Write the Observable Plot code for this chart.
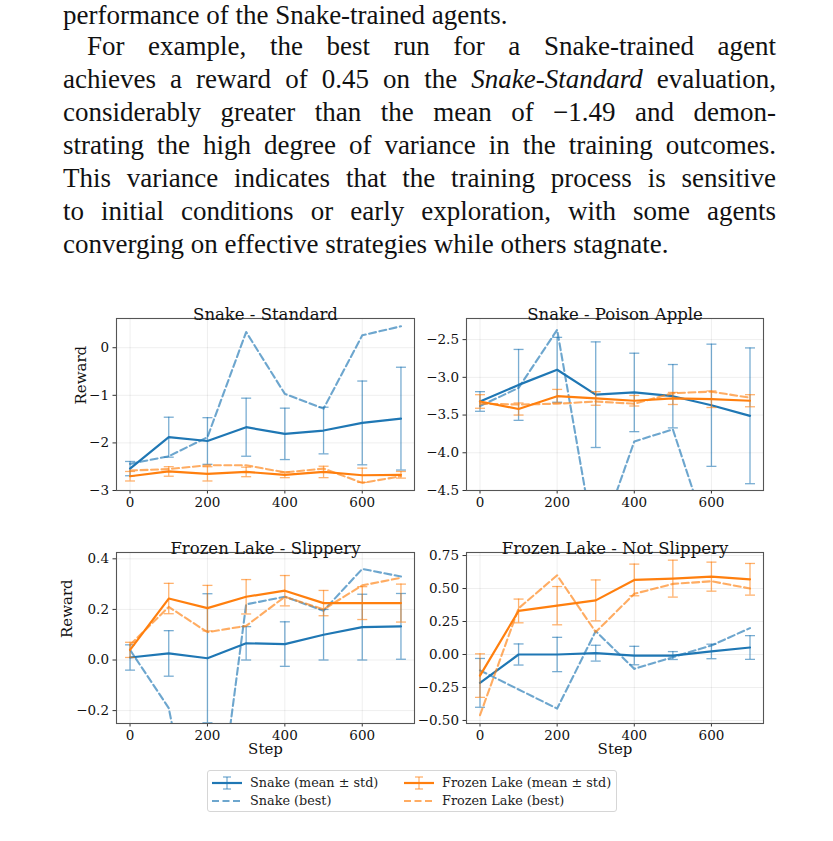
<!DOCTYPE html>
<html>
<head>
<meta charset="utf-8">
<script src="https://cdn.jsdelivr.net/npm/d3@7"></script>
<script src="https://cdn.jsdelivr.net/npm/@observablehq/plot@0.6"></script>
<style>
  html, body { margin: 0; padding: 0; background: #fff; }
  body { width: 833px; height: 841px; position: relative; overflow: hidden; }
  #para { position: absolute; left: 63px; top: 2px; width: 713px; font-family: "Liberation Serif", serif; font-size: 27px; line-height: 33px; color: #111; }
  #para .j { text-align: justify; text-align-last: justify; }
  #para .l { text-align: left; }
  #para .first { line-height: 27px; margin-bottom: 1px; }
  .panel { position: absolute; }
  #legend { position: absolute; left: 207px; top: 770px; width: 410px; height: 42px; box-sizing: border-box; border: 1px solid #d6d6d6; border-radius: 3px; font-family: "DejaVu Serif", serif; font-size: 12.8px; color: #222; }
  .li { position: absolute; height: 18px; line-height: 18px; white-space: nowrap; }
  .li svg { position: absolute; left: 0; top: 0; }
  .li span { position: absolute; top: 0; }
</style>
</head>
<body>
<div id="para">
  <div class="l first">performance of the Snake-trained agents.</div>
  <div class="j" style="text-indent:24px">For example, the best run for a Snake-trained agent</div>
  <div class="j">achieves a reward of 0.45 on the <i>Snake-Standard</i> evaluation,</div>
  <div class="j">considerably greater than the mean of −1.49 and demon-</div>
  <div class="j">strating the high degree of variance in the training outcomes.</div>
  <div class="j">This variance indicates that the training process is sensitive</div>
  <div class="j">to initial conditions or early exploration, with some agents</div>
  <div class="l">converging on effective strategies while others stagnate.</div>
</div>
<div id="charts"></div>
<div id="legend"></div>
<script>
// ---------- data ----------
const steps = [0, 100, 200, 300, 400, 500, 600, 700];
const xTicks = [0, 200, 400, 600];

// Snake - Standard
const standardSnakeMean = [-2.54, -1.88, -1.96, -1.67, -1.81, -1.74, -1.58, -1.49];
const standardSnakeStd  = [0.15, 0.42, 0.49, 0.61, 0.54, 0.49, 0.88, 1.08];
const standardSnakeBest = [-2.44, -2.28, -1.88, 0.33, -0.97, -1.28, 0.26, 0.45];
const standardLakeMean  = [-2.70, -2.60, -2.65, -2.61, -2.67, -2.61, -2.68, -2.67];
const standardLakeStd   = [0.10, 0.10, 0.15, 0.10, 0.06, 0.12, 0.15, 0.07];
const standardLakeBest  = [-2.58, -2.55, -2.47, -2.47, -2.62, -2.54, -2.84, -2.70];
const standardTicks = [-3, -2, -1, 0];

// Snake - Poison Apple
const poisonSnakeMean = [-3.32, -3.10, -2.90, -3.23, -3.20, -3.25, -3.37, -3.51];
const poisonSnakeStd  = [0.13, 0.47, 0.43, 0.70, 0.52, 0.42, 0.81, 0.90];
const poisonSnakeBest = [-3.38, -3.14, -2.37, -5.30, -3.85, -3.69, -5.24, -5.50];
const poisonLakeMean  = [-3.32, -3.42, -3.25, -3.28, -3.31, -3.28, -3.29, -3.31];
const poisonLakeStd   = [0.09, 0.08, 0.09, 0.09, 0.07, 0.08, 0.11, 0.08];
const poisonLakeBest  = [-3.35, -3.36, -3.35, -3.32, -3.35, -3.21, -3.19, -3.27];
const poisonTicks = [-4.5, -4.0, -3.5, -3.0, -2.5];

// Frozen Lake - Slippery
const slipperySnakeMean = [0.010, 0.026, 0.007, 0.066, 0.063, 0.100, 0.130, 0.133];
const slipperySnakeStd  = [0.050, 0.090, 0.255, 0.066, 0.088, 0.100, 0.130, 0.130];
const slipperySnakeBest = [0.040, -0.190, -0.950, 0.220, 0.250, 0.195, 0.360, 0.330];
const slipperyLakeMean  = [0.040, 0.243, 0.205, 0.250, 0.274, 0.225, 0.225, 0.225];
const slipperyLakeStd   = [0.030, 0.060, 0.090, 0.068, 0.060, 0.050, 0.065, 0.075];
const slipperyLakeBest  = [0.060, 0.210, 0.110, 0.135, 0.250, 0.200, 0.295, 0.325];
const slipperyTicks = [-0.2, 0.0, 0.2, 0.4];

// Frozen Lake - Not Slippery
const notSlipSnakeMean = [-0.215, 0.000, 0.000, 0.010, -0.008, -0.008, 0.023, 0.053];
const notSlipSnakeStd  = [0.185, 0.080, 0.130, 0.060, 0.070, 0.030, 0.055, 0.090];
const notSlipSnakeBest = [-0.120, -0.265, -0.410, 0.177, -0.109, -0.020, 0.068, 0.200];
const notSlipLakeMean  = [-0.160, 0.330, 0.370, 0.410, 0.565, 0.575, 0.590, 0.570];
const notSlipLakeStd   = [0.165, 0.090, 0.145, 0.155, 0.120, 0.140, 0.110, 0.120];
const notSlipLakeBest  = [-0.460, 0.350, 0.600, 0.170, 0.460, 0.535, 0.555, 0.500];
const notSlipTicks = [-0.50, -0.25, 0.00, 0.25, 0.50, 0.75];

const legendLabels = ["Snake (mean ± std)", "Snake (best)", "Frozen Lake (mean ± std)", "Frozen Lake (best)"];

// ---------- styling ----------
const BLUE = "#1f77b4", ORANGE = "#ff7f0e";
const capSymbol = { draw(ctx, size) { const w = Math.sqrt(size / Math.PI); ctx.moveTo(-w, 0); ctx.lineTo(w, 0); } };

function rowsOf(mean, std, best) {
  return steps.map((s, i) => ({ step: s, m: mean[i], s: std[i], b: best[i] }));
}

function seriesMarks(rows, color) {
  return [
    Plot.ruleX(rows, { x: "step", y1: d => d.m - d.s, y2: d => d.m + d.s, stroke: color, strokeOpacity: 0.6, strokeWidth: 1.3, clip: true }),
    Plot.dot(rows, { x: "step", y: d => d.m - d.s, symbol: capSymbol, r: 5, fill: "none", stroke: color, strokeOpacity: 0.6, strokeWidth: 1.3, clip: true }),
    Plot.dot(rows, { x: "step", y: d => d.m + d.s, symbol: capSymbol, r: 5, fill: "none", stroke: color, strokeOpacity: 0.6, strokeWidth: 1.3, clip: true }),
    Plot.line(rows, { x: "step", y: "m", stroke: color, strokeWidth: 2.2, clip: true }),
  ];
}
function bestMarks(rows, color) {
  return [Plot.line(rows, { x: "step", y: "b", stroke: color, strokeWidth: 2.1, strokeOpacity: 0.65, strokeDasharray: "7,3.5", clip: true })];
}

function panel(cfg) {
  const ml = 72, mt = 30, mr = 14, mb = 44;
  const snake = rowsOf(cfg.snakeMean, cfg.snakeStd, cfg.snakeBest);
  const lake = rowsOf(cfg.lakeMean, cfg.lakeStd, cfg.lakeBest);
  const marks = [
    Plot.gridX(xTicks, { stroke: "#000", strokeOpacity: 0.08, strokeWidth: 0.9 }),
    Plot.gridY(cfg.yTicks, { stroke: "#000", strokeOpacity: 0.08, strokeWidth: 0.9 }),
    Plot.axisX(xTicks, { tickSize: 3.5, tickPadding: 3, fontSize: 13.5, stroke: "#333", fill: "#111", label: null }),
    Plot.axisY(cfg.yTicks, { tickSize: 3.5, tickPadding: 4, fontSize: 13.5, stroke: "#333", fill: "#111", tickFormat: cfg.fmt, label: null }),
    ...seriesMarks(snake, BLUE),
    ...bestMarks(snake, BLUE),
    ...seriesMarks(lake, ORANGE),
    ...bestMarks(lake, ORANGE),
    Plot.frame({ stroke: "#555", strokeWidth: 1.1 }),
    Plot.text([cfg.title], { frameAnchor: "top", dy: -10, fontSize: 16.5, fill: "#111" }),
  ];
  if (cfg.yLabelDx) marks.push(Plot.text(["Reward"], { frameAnchor: "left", rotate: -90, dx: -cfg.yLabelDx, fontSize: 15, fill: "#111" }));
  if (cfg.showStep) marks.push(Plot.text(["Step"], { frameAnchor: "bottom", dy: 30, fontSize: 15, fill: "#111" }));
  const svg = Plot.plot({
    width: cfg.w + ml + mr, height: cfg.h + mt + mb,
    marginLeft: ml, marginRight: mr, marginTop: mt, marginBottom: mb,
    style: { fontFamily: "DejaVu Serif", fontSize: "13.5px", color: "#111", background: "transparent", overflow: "visible" },
    x: { domain: [-35, 735] },
    y: { domain: cfg.yDomain },
    marks
  });
  const div = document.createElement("div");
  div.className = "panel";
  div.style.left = (cfg.left - ml) + "px";
  div.style.top = (cfg.top - mt) + "px";
  div.appendChild(svg);
  document.getElementById("charts").appendChild(div);
}

panel({ title: "Snake - Standard", left: 116, top: 318, w: 298, h: 172, yDomain: [-3, 0.614], yTicks: standardTicks, fmt: d3.format("d"),
  snakeMean: standardSnakeMean, snakeStd: standardSnakeStd, snakeBest: standardSnakeBest,
  lakeMean: standardLakeMean, lakeStd: standardLakeStd, lakeBest: standardLakeBest, yLabelDx: 35 });
panel({ title: "Snake - Poison Apple", left: 466, top: 318, w: 297, h: 172, yDomain: [-4.5, -2.22], yTicks: poisonTicks, fmt: d3.format(".1f"),
  snakeMean: poisonSnakeMean, snakeStd: poisonSnakeStd, snakeBest: poisonSnakeBest,
  lakeMean: poisonLakeMean, lakeStd: poisonLakeStd, lakeBest: poisonLakeBest });
panel({ title: "Frozen Lake - Slippery", left: 116, top: 552, w: 298, h: 171, yDomain: [-0.251, 0.425], yTicks: slipperyTicks, fmt: d3.format(".1f"),
  snakeMean: slipperySnakeMean, snakeStd: slipperySnakeStd, snakeBest: slipperySnakeBest,
  lakeMean: slipperyLakeMean, lakeStd: slipperyLakeStd, lakeBest: slipperyLakeBest, yLabelDx: 49, showStep: true });
panel({ title: "Frozen Lake - Not Slippery", left: 466, top: 552, w: 297, h: 171, yDomain: [-0.523, 0.773], yTicks: notSlipTicks, fmt: d3.format(".2f"),
  snakeMean: notSlipSnakeMean, snakeStd: notSlipSnakeStd, snakeBest: notSlipSnakeBest,
  lakeMean: notSlipLakeMean, lakeStd: notSlipLakeStd, lakeBest: notSlipLakeBest, showStep: true });

// ---------- legend ----------
const legend = d3.select("#legend");
const entries = [
  { label: legendLabels[0], color: BLUE, kind: "err", left: 3, top: 3 },
  { label: legendLabels[1], color: BLUE, kind: "best", left: 3, top: 21 },
  { label: legendLabels[2], color: ORANGE, kind: "err", left: 195, top: 3 },
  { label: legendLabels[3], color: ORANGE, kind: "best", left: 195, top: 21 },
];
for (const e of entries) {
  const item = legend.append("div").attr("class", "li").style("left", e.left + "px").style("top", e.top + "px").style("width", "210px");
  const svg = item.append("svg").attr("width", 32).attr("height", 18);
  if (e.kind === "err") {
    svg.append("line").attr("x1", 1).attr("x2", 31).attr("y1", 9).attr("y2", 9).attr("stroke", e.color).attr("stroke-width", 2.2);
    const g = svg.append("g").attr("stroke", e.color).attr("stroke-opacity", 0.6).attr("stroke-width", 1.3);
    g.append("line").attr("x1", 16).attr("x2", 16).attr("y1", 3).attr("y2", 15);
    g.append("line").attr("x1", 12).attr("x2", 20).attr("y1", 3).attr("y2", 3);
    g.append("line").attr("x1", 12).attr("x2", 20).attr("y1", 15).attr("y2", 15);
  } else {
    svg.append("line").attr("x1", 1).attr("x2", 31).attr("y1", 9).attr("y2", 9).attr("stroke", e.color)
      .attr("stroke-opacity", 0.65).attr("stroke-width", 2.1).attr("stroke-dasharray", "7,3.5");
  }
  item.append("span").style("left", "39px").text(e.label);
}
</script>
</body>
</html>
